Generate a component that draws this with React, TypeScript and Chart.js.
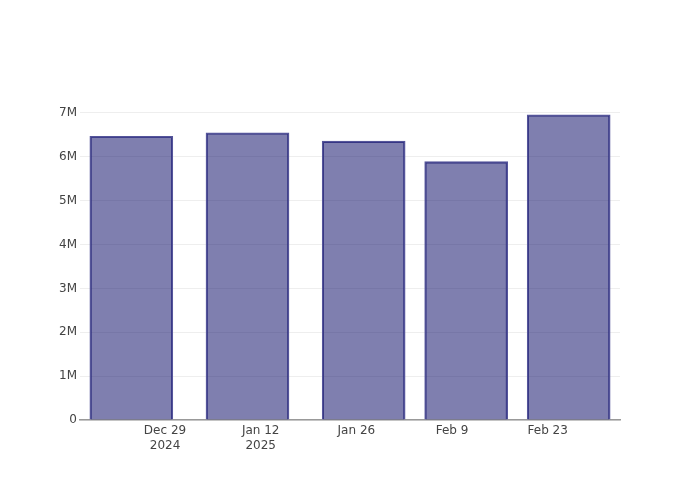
import React, { useEffect, useRef } from "react";
import { Chart, registerables } from "chart.js";

Chart.register(...registerables);

// Days relative to 2024-12-29
const barDays = [-4.93, 12.07, 29.07, 44.07, 59.07];
const barValues = [6470000, 6550000, 6360000, 5890000, 6960000];
const xTickDays = [0, 14, 28, 42, 56];
const xTickLabels: (string | string[])[] = [["Dec 29", "2024"], ["Jan 12", "2025"], "Jan 26", "Feb 9", "Feb 23"];
const yTickValues = [0, 1000000, 2000000, 3000000, 4000000, 5000000, 6000000, 7000000];

export default function App() {
  const ref = useRef<HTMLCanvasElement>(null);
  useEffect(() => {
    document.body.style.margin = "0";
    const font = { family: "'DejaVu Sans', sans-serif", size: 12, lineHeight: 1.25 };
    const chart = new Chart(ref.current!, {
      type: "bar",
      data: {
        datasets: [
          {
            data: barDays.map((d, i) => ({ x: d, y: barValues[i] })),
            backgroundColor: "rgba(0,0,95,0.5)",
            borderColor: "#55559a",
            borderWidth: 1.5,
            barThickness: 83,
          },
        ],
      },
      options: {
        animation: false,
        responsive: false,
        maintainAspectRatio: false,
        layout: { padding: { top: 100, right: 80, left: 0, bottom: 0 } },
        plugins: { legend: { display: false }, tooltip: { enabled: false } },
        scales: {
          x: {
            type: "linear",
            offset: false,
            min: -12.44,
            max: 66.58,
            grid: { display: false, drawTicks: false, offset: false },
            border: { display: true, color: "#999", width: 1.5 },
            afterBuildTicks: (s: any) => {
              s.ticks = xTickDays.map((v) => ({ value: v }));
            },
            afterFit: (s: any) => {
              s.height = 80;
            },
            ticks: {
              autoSkip: false,
              maxRotation: 0,
              padding: 3,
              color: "#444",
              font,
              callback: (v: any) => {
                const i = xTickDays.indexOf(Number(v));
                return i >= 0 ? xTickLabels[i] : "";
              },
            },
          },
          y: {
            type: "linear",
            min: 0,
            max: 7296000,
            grid: { color: "#eee", drawTicks: false },
            border: { display: false },
            afterBuildTicks: (s: any) => {
              s.ticks = yTickValues.map((v) => ({ value: v }));
            },
            afterFit: (s: any) => {
              s.width = 80;
            },
            ticks: {
              padding: 3,
              color: "#444",
              font,
              callback: (v: any) => (Number(v) === 0 ? "0" : Number(v) / 1000000 + "M"),
            },
          },
        },
      },
    });
    return () => chart.destroy();
  }, []);
  return <canvas ref={ref} width={700} height={500} style={{ display: "block" }} />;
}
